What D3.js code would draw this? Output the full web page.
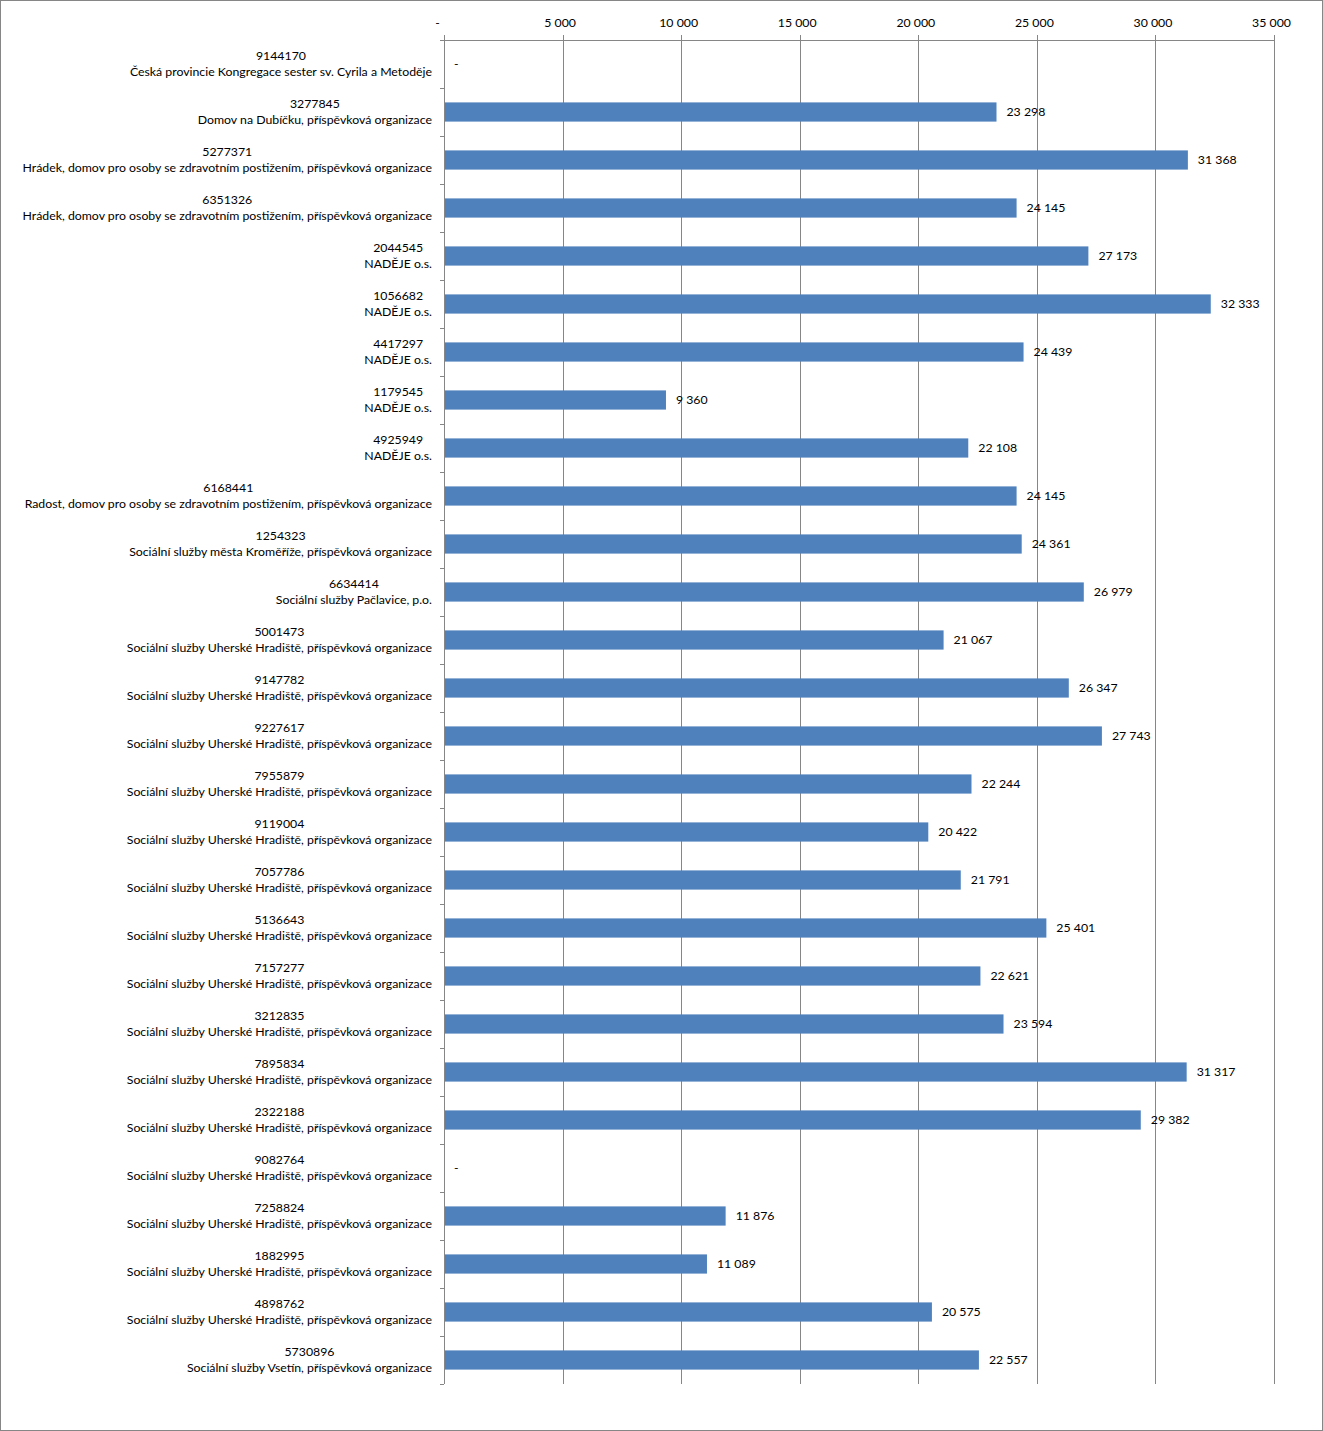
<!DOCTYPE html>
<html>
<head>
<meta charset="utf-8">
<script src="https://cdn.jsdelivr.net/npm/d3@7"></script>
<style>
  html, body { margin: 0; padding: 0; background: #fff; }
  svg { display: block; }
  text { font-family: Lato, "Open Sans", sans-serif; fill: #000; }
</style>
</head>
<body>
<svg id="chart" width="1323" height="1431"></svg>
<script>
const ids = ["9144170","3277845","5277371","6351326","2044545","1056682","4417297","1179545","4925949","6168441","1254323","6634414","5001473","9147782","9227617","7955879","9119004","7057786","5136643","7157277","3212835","7895834","2322188","9082764","7258824","1882995","4898762","5730896"];
const names = [
  "Česká provincie Kongregace sester sv. Cyrila a Metoděje",
  "Domov na Dubíčku, příspěvková organizace",
  "Hrádek, domov pro osoby se zdravotním postižením, příspěvková organizace",
  "Hrádek, domov pro osoby se zdravotním postižením, příspěvková organizace",
  "NADĚJE o.s.",
  "NADĚJE o.s.",
  "NADĚJE o.s.",
  "NADĚJE o.s.",
  "NADĚJE o.s.",
  "Radost, domov pro osoby se zdravotním postižením, příspěvková organizace",
  "Sociální služby města Kroměříže, příspěvková organizace",
  "Sociální služby Pačlavice, p.o.",
  "Sociální služby Uherské Hradiště, příspěvková organizace",
  "Sociální služby Uherské Hradiště, příspěvková organizace",
  "Sociální služby Uherské Hradiště, příspěvková organizace",
  "Sociální služby Uherské Hradiště, příspěvková organizace",
  "Sociální služby Uherské Hradiště, příspěvková organizace",
  "Sociální služby Uherské Hradiště, příspěvková organizace",
  "Sociální služby Uherské Hradiště, příspěvková organizace",
  "Sociální služby Uherské Hradiště, příspěvková organizace",
  "Sociální služby Uherské Hradiště, příspěvková organizace",
  "Sociální služby Uherské Hradiště, příspěvková organizace",
  "Sociální služby Uherské Hradiště, příspěvková organizace",
  "Sociální služby Uherské Hradiště, příspěvková organizace",
  "Sociální služby Uherské Hradiště, příspěvková organizace",
  "Sociální služby Uherské Hradiště, příspěvková organizace",
  "Sociální služby Uherské Hradiště, příspěvková organizace",
  "Sociální služby Vsetín, příspěvková organizace"
];
const values = [0,23298,31368,24145,27173,32333,24439,9360,22108,24145,24361,26979,21067,26347,27743,22244,20422,21791,25401,22621,23594,31317,29382,0,11876,11089,20575,22557];
const tickValues = [0,5000,10000,15000,20000,25000,30000,35000];
const tickLabels = ["-","5 000","10 000","15 000","20 000","25 000","30 000","35 000"];

(function(){
const svg = d3.select("#chart");
const W = 1323, H = 1431;
const pLeft = 444, pRight = 1274, pTop = 40, pBottom = 1384;
const labelRight = 432;
const FS = 12.3;

svg.append("rect").attr("x",0.5).attr("y",0.5).attr("width",W-1).attr("height",H-1)
  .attr("fill","#fff").attr("stroke","#868686").attr("stroke-width",1);

const x = d3.scaleLinear().domain([0,35000]).range([pLeft,pRight]);
const y = d3.scaleBand().domain(d3.range(ids.length)).range([pTop,pBottom]).paddingInner(0.6).paddingOuter(0.3);
const yb = d3.scaleBand().domain(d3.range(ids.length)).range([pTop,pBottom]);

const fmtSpace = v => d3.format(",")(v).replace(/,/g," ");
const valLabel = v => v === 0 ? "-" : fmtSpace(v);

// gridlines
const grid = svg.append("g").attr("transform",`translate(0,${pTop})`)
  .call(d3.axisTop(x).tickValues(tickValues).tickSize(-(pBottom-pTop)).tickFormat(""));
grid.select(".domain").remove();
grid.selectAll("line").attr("stroke","#868686").attr("shape-rendering","crispEdges");

// top axis
const ax = svg.append("g").attr("transform",`translate(0,${pTop})`)
  .call(d3.axisTop(x).tickValues(tickValues).tickSizeInner(5).tickSizeOuter(0)
    .tickFormat((d,i) => tickLabels[i]));
ax.select(".domain").attr("stroke","#868686").attr("shape-rendering","crispEdges");
ax.selectAll(".tick line").attr("stroke","#868686").attr("shape-rendering","crispEdges");
ax.selectAll(".tick text").attr("font-family","Lato, sans-serif").attr("font-size",FS)
  .attr("fill","#000").attr("y",-13).attr("dx",(d,i)=> i===0 ? -7 : -3);

// bars
svg.append("g").selectAll("rect").data(values).join("rect")
  .attr("x", x(0)).attr("y",(d,i)=>y(i)).attr("width",d=>x(d)-x(0)).attr("height",y.bandwidth())
  .attr("fill","#4F81BD");

// left axis with boundary ticks
const ya = svg.append("g").attr("transform",`translate(${pLeft},0)`);
ya.append("line").attr("x1",0).attr("x2",0).attr("y1",pTop).attr("y2",pBottom)
  .attr("stroke","#868686").attr("shape-rendering","crispEdges");
ya.selectAll("line.bt").data(d3.range(ids.length+1)).join("line").attr("class","bt")
  .attr("x1",-4).attr("x2",0)
  .attr("y1",i => i < ids.length ? yb(i) : pBottom).attr("y2",i => i < ids.length ? yb(i) : pBottom)
  .attr("stroke","#868686").attr("shape-rendering","crispEdges");

// category labels
const lab = svg.append("g").selectAll("g").data(ids).join("g")
  .attr("transform",(d,i)=>`translate(0,${yb(i)+yb.bandwidth()/2})`);
lab.each(function(d,i){
  const g = d3.select(this);
  const nm = g.append("text").attr("x",labelRight).attr("y",8).attr("dy","0.35em")
    .attr("text-anchor","end").attr("font-size",FS).text(names[i]);
  const w = nm.node().getComputedTextLength();
  g.append("text").attr("x",labelRight - w/2).attr("y",-8).attr("dy","0.35em")
    .attr("text-anchor","middle").attr("font-size",FS).text(ids[i]);
});

// value labels
svg.append("g").selectAll("text").data(values).join("text")
  .attr("x",d=>x(d)+10).attr("y",(d,i)=>yb(i)+yb.bandwidth()/2).attr("dy","0.35em")
  .attr("font-size",FS).text(valLabel);
})();
</script>
</body>
</html>
